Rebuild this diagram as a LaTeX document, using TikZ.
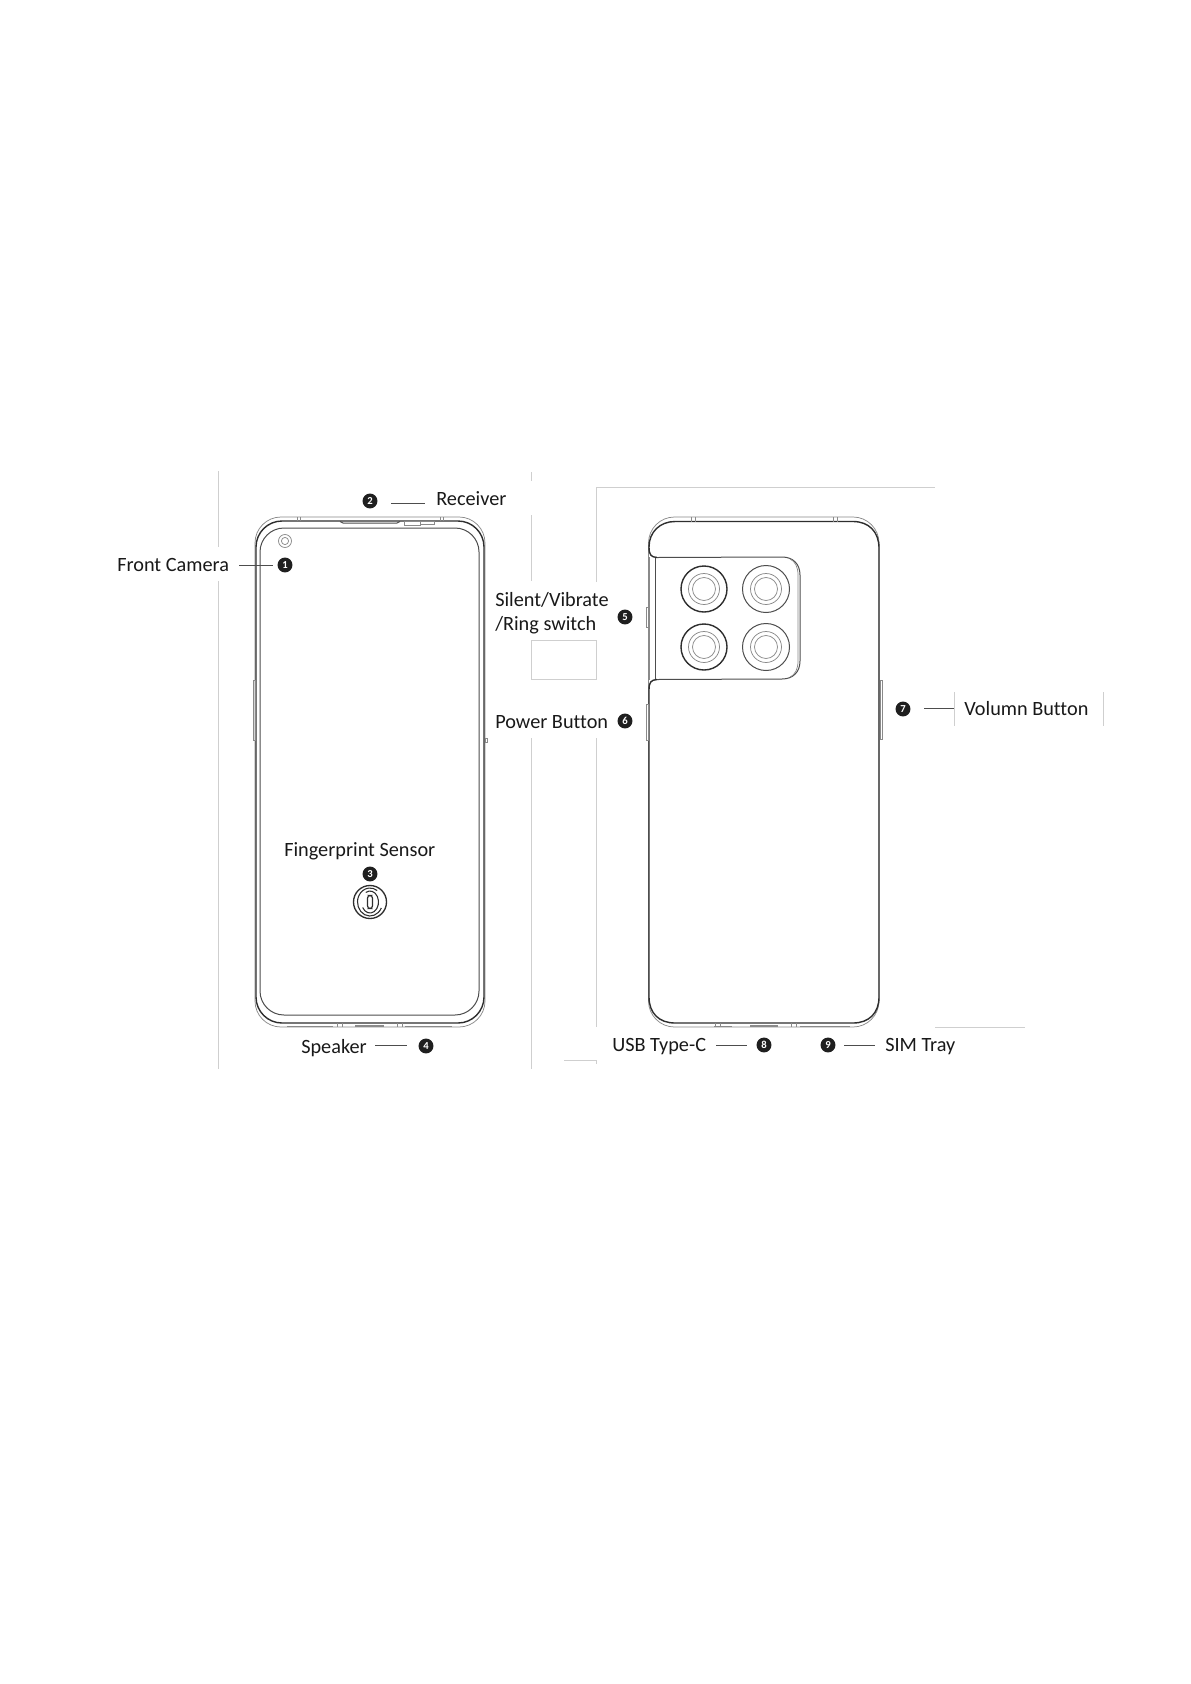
\documentclass[tikz,border=0pt]{standalone}
\usepackage{fontspec}
\setmainfont[Ligatures={NoCommon}]{Carlito}
\definecolor{guide}{HTML}{CFCFCF}
\definecolor{ink}{HTML}{2E2E2E}
\definecolor{soft}{HTML}{8A8A8A}
\tikzset{
  x=0.75pt,y=-0.75pt,
  guideline/.style={draw=guide,line width=0.6pt},
  thick line/.style={draw=ink,line width=1.05pt},
  mid line/.style={draw=ink!85,line width=0.75pt},
  thin line/.style={draw=soft,line width=0.55pt},
  button/.style={draw=soft,line width=0.5pt},
  leader/.style={draw=ink!85,line width=0.55pt},
  badge/.style={circle,fill=black!88,text=white,inner sep=0pt,minimum size=11.2pt,font=\fontsize{8}{8}\selectfont\bfseries},
  label/.style={anchor=base west,inner sep=0pt,text=black!90,font=\fontsize{15.2}{17}\selectfont},
}
\begin{document}
\begin{tikzpicture}
\useasboundingbox[fill=white] (0,0) rectangle (1190,1684);

% --- pale guide lines
\draw[guideline] (218,471) -- (218,547) (218,581) -- (218,1069);
\draw[guideline] (531,472) -- (531,481) (531,515) -- (531,581);
\draw[guideline] (531,640) rectangle (596,679);
\draw[guideline] (531,738) -- (531,1069);
\draw[guideline] (596,582) -- (596,487) -- (935,487);
\draw[guideline] (596,738) -- (596,1027);
\draw[guideline] (935,1027) -- (1025,1027);
\draw[guideline] (564,1060) -- (596,1060) -- (596,1064);
\draw[guideline] (954,692) -- (954,726);
\draw[guideline] (1103,692) -- (1103,726);

% --- front of the phone
\draw[thin line,rounded corners=19.5pt] (255,517) rectangle (485,1027);
\draw[thick line,rounded corners=19.5pt] (256,521) rectangle (484,1023);
\draw[mid line,rounded corners=18pt] (260,528) rectangle (479,1015);
\draw[mid line] (340,521.5) -- (343,523) -- (397,523) -- (400,521.5);
\draw[thin line] (404,521) rectangle (420,525) (420,521) rectangle (434,524);
\draw[thin line] (297,517) -- (297,521) (300,517) -- (300,521) (440,517) -- (440,521) (443,517) -- (443,521);
\draw[thin line] (337,1023) -- (337,1027) (342,1023) -- (342,1027) (397,1023) -- (397,1027) (402,1023) -- (402,1027);
\draw[thin line,line width=0.9pt] (287,1026.5) -- (333,1026.5) (355,1026) -- (384,1026) (405,1026.5) -- (452,1026.5);
\draw[thin line] (285,541) circle[radius=6.5] (285,541) circle[radius=3.6];
\draw[button] (253,680) rectangle (255,740);
\draw[button] (485,738) rectangle (487,742);

% fingerprint sensor
\draw[draw=ink,line width=1pt] (370,902) ellipse[x radius=16.5,y radius=16.5];
\draw[draw=ink,line width=0.8pt] (370,902) ++(25:12.5 and 14) arc[start angle=25,end angle=305,x radius=12.5,y radius=14];
\draw[draw=ink,line width=0.8pt] (370,902) ++(-120:8.5 and 11) arc[start angle=-120,end angle=150,x radius=8.5,y radius=11];
\draw[draw=ink,line width=0.9pt,rounded corners=2pt] (367.5,895.5) rectangle (372.5,908.5);

% --- back of the phone
\draw[thin line,rounded corners=19.5pt] (648.5,517) rectangle (879,1027);
\draw[thick line] (657,557.5) .. controls (651,557) and (649,555) .. (649,547)
  .. controls (649,532) and (660,521.5) .. (675,521.5) -- (853,521.5)
  .. controls (869,521.5) and (879,532) .. (879,548) -- (879,997)
  .. controls (879,1013) and (869,1023) .. (853,1023) -- (675,1023)
  .. controls (659,1023) and (649,1013) .. (649,997) -- (649,690)
  .. controls (649,682) and (651,680) .. (657,679.5);
\draw[mid line] (657,557.5) -- (782,557) .. controls (793,557) and (800,564) .. (800,575)
  -- (800,661) .. controls (800,672) and (793,679) .. (782,679) -- (657,679.5);
\draw[thin line] (790,559) .. controls (795,561) and (798,567) .. (798,575) -- (798,661) .. controls (798,669) and (795,675) .. (790,677);
\draw[mid line] (655,558) -- (655,679);
\draw[thin line] (649,557) -- (649,680);
\draw[thin line] (691,517) -- (691,522) (695,517) -- (695,522) (833,517) -- (833,522) (837,517) -- (837,522);
\draw[thin line] (715,1023) -- (715,1027) (720,1023) -- (720,1027) (791,1023) -- (791,1027) (796,1023) -- (796,1027);
\draw[thin line,line width=0.9pt] (714,1026.5) -- (732,1026.5) (750,1026) -- (778,1026) (800,1026.5) -- (850,1026.5);
\draw[button] (646,607) rectangle (648,627);
\draw[button] (646,704) rectangle (648,740);
\draw[button] (880,680) rectangle (882,739);

% lenses
\draw[thick line] (704,589) circle[radius=23];
\draw[mid line] (766,589) circle[radius=23.5];
\draw[thick line] (704,647) circle[radius=23];
\draw[mid line] (766,647) circle[radius=23.5];
\foreach \cx/\cy in {704/589,766/589,704/647,766/647}{
  \draw[thin line] (\cx,\cy) circle[radius=15.5] (\cx,\cy) circle[radius=11.5];
}

% --- labels
\node[label] (fc) at (117,571) {Front Camera};
\node[label] (rc) at (436,505) {Receiver};
\node[label] (sv) at (495,606) {Silent/Vibrate};
\node[label] (rs) at (495,630) {/Ring switch};
\node[label] (pb) at (495,728) {Power Button};
\node[label] (vb) at (964,715) {Volumn Button};
\node[label] (fp) at (284,856) {Fingerprint Sensor};
\node[label] (sp) at (301,1053) {Speaker};
\node[label] (us) at (612,1051) {USB Type-C};
\node[label] (si) at (885,1051) {SIM Tray};

% --- numbered badges
\node[badge] (b1) at (285,565) {1};
\node[badge] (b2) at (370,501) {2};
\node[badge] (b3) at (370,874) {3};
\node[badge] (b4) at (426,1046) {4};
\node[badge] (b5) at (625,617) {5};
\node[badge] (b6) at (625,721) {6};
\node[badge] (b7) at (903,709) {7};
\node[badge] (b8) at (764,1045) {8};
\node[badge] (b9) at (828,1045) {9};

% --- leader lines
\coordinate (l1) at (239,565);
\coordinate (l2) at (425,503);
\coordinate (l4) at (375,1045);
\coordinate (l7) at (954,708);
\coordinate (l8) at (716,1045);
\coordinate (l9) at (875,1045);
\draw[leader,shorten >=3.4pt] (l1) -- (b1.west |- l1);
\draw[leader,shorten <=10pt] (b2.east |- l2) -- (l2);
\draw[leader,shorten >=8.2pt] (l4) -- (b4.west |- l4);
\draw[leader,shorten <=10pt] (b7.east |- l7) -- (l7);
\draw[leader,shorten >=6.9pt] (l8) -- (b8.west |- l8);
\draw[leader,shorten <=6.5pt] (b9.east |- l9) -- (l9);
\end{tikzpicture}
\end{document}
